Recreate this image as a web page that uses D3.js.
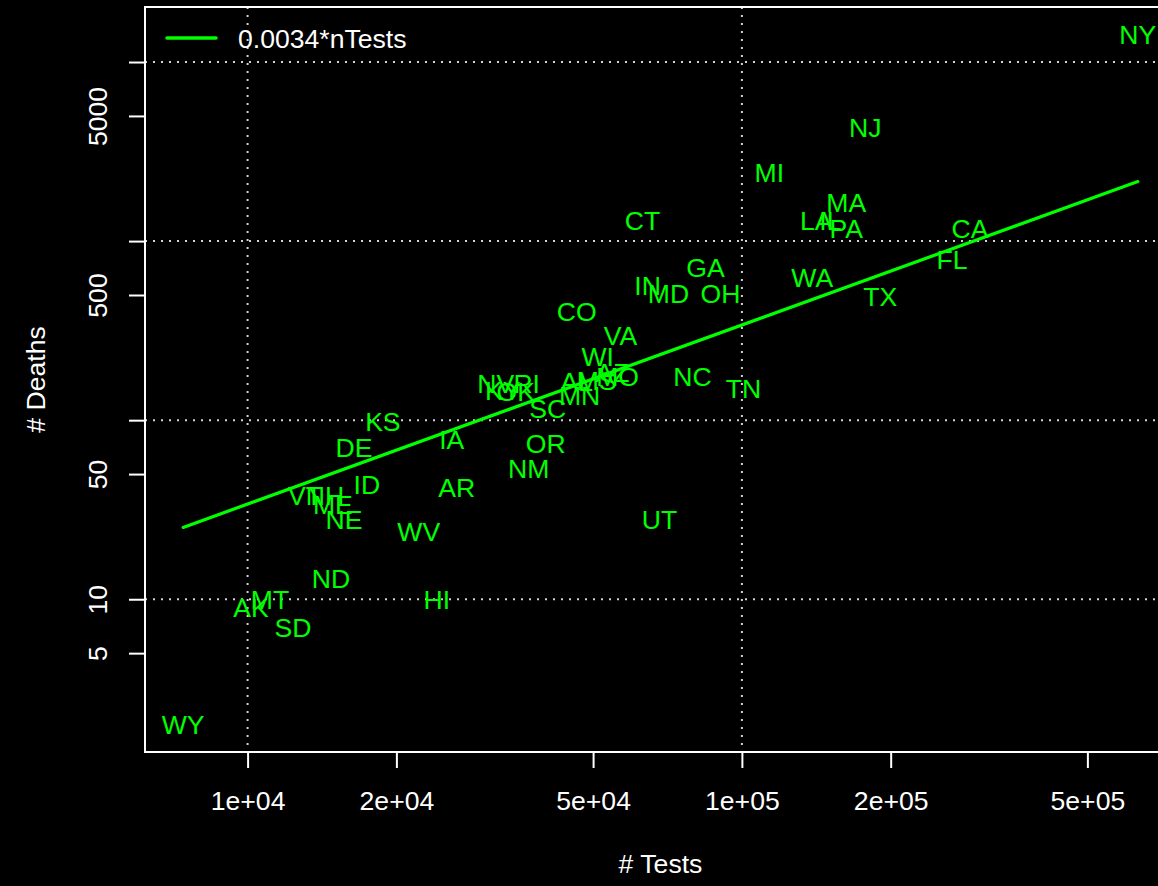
<!DOCTYPE html>
<html>
<head>
<meta charset="utf-8">
<script src="https://cdn.jsdelivr.net/npm/d3@7"></script>
<style>
  body { margin: 0; background: #000; }
  text { font-family: "Liberation Sans", Arial, sans-serif; }
</style>
</head>
<body>
<div id="chart"></div>
<script>
// data: tests and deaths per state
var states = ["NY","NJ","MI","MA","LA","IL","PA","CA","FL","TX",
              "WA","GA","IN","MD","OH","CT","CO","VA","WI","AZ",
              "MO","MS","AL","MN","SC","RI","NV","KY","OK","NC",
              "TN","KS","DE","IA","OR","NM","ID","AR","UT","WV",
              "VT","NH","ME","NE","ND","MT","AK","SD","HI","WY"];
var nTests = [632400,177600,113600,162600,141400,151000,162600,289400,266300,190500,
              138800,84400,64450,71050,90500,62950,46320,56820,51070,54750,
              56040,50830,46320,46960,40470,36700,31770,32830,34870,79430,
              100700,18780,16410,25890,40090,37040,17430,26500,68130,22200,
              13070,14340,14880,15670,14750,11100,10160,12360,24150,7408];
var nDeaths = [14230,4315,2423,1650,1309,1309,1182,1182,794,488,
               630,716,569,507,507,1309,407,296,226,184,
               175,166,164,137,117,160,160,146,144,175,
               150,99,70,78,74,54,44,42,28,24,
               38,38,34,28,13,10,9,7,10,2];
var slope = 0.0034;

// axis ticks and grid
var xTicks = [1e4, 2e4, 5e4, 1e5, 2e5, 5e5];
var yTicks = [5, 10, 50, 100, 500, 1000, 5000, 10000];
var yLabelled = [5, 10, 50, 500, 5000];
var xGrid = [1e4, 1e5];
var yGrid = [10, 100, 1000, 10000];

var width = 1158, height = 886;
var box = {left: 145, right: 1176, top: 7, bottom: 752};
var green = "#00ff00";
var fontSize = 26.6;

var svg = d3.select("#chart")
  .append("svg")
    .attr("width", width)
    .attr("height", height)
    .style("background", "#000");

// log range padded 4% on each side like R does
function padLog(vals) {
  var lo = Math.log10(d3.min(vals)), hi = Math.log10(d3.max(vals));
  var p = (hi - lo) * 0.04;
  return [Math.pow(10, lo - p), Math.pow(10, hi + p)];
}

var x = d3.scaleLog()
  .domain(padLog(nTests))
  .range([box.left, box.right]);
var y = d3.scaleLog()
  .domain(padLog(nDeaths))
  .range([box.bottom, box.top]);

function sciFormat(d) {
  var e = Math.floor(Math.log10(d) + 1e-9);
  var m = Math.round(d / Math.pow(10, e));
  return m + "e+" + (e < 10 ? "0" + e : e);
}

// dotted grid
svg.append("g")
  .selectAll("line")
  .data(yGrid)
  .enter()
  .append("line")
    .attr("x1", box.left)
    .attr("x2", box.right)
    .attr("y1", function(d) { return y(d); })
    .attr("y2", function(d) { return y(d); })
    .attr("stroke", "#d3d3d3")
    .attr("stroke-width", 2)
    .attr("stroke-dasharray", "2,6");

svg.append("g")
  .selectAll("line")
  .data(xGrid)
  .enter()
  .append("line")
    .attr("y1", box.top)
    .attr("y2", box.bottom)
    .attr("x1", function(d) { return x(d); })
    .attr("x2", function(d) { return x(d); })
    .attr("stroke", "#d3d3d3")
    .attr("stroke-width", 2)
    .attr("stroke-dasharray", "2,6");

// fitted line across the range of tests
var xr = d3.extent(nTests);
svg.append("path")
  .datum(xr)
  .attr("d", d3.line()
    .x(function(d) { return x(d); })
    .y(function(d) { return y(slope * d); })
  )
  .attr("stroke", green)
  .attr("stroke-width", 3.2)
  .attr("stroke-linecap", "round")
  .attr("fill", "none");

// state labels at each point
svg.append("g")
  .selectAll("text")
  .data(states)
  .enter()
  .append("text")
    .attr("x", function(d, i) { return x(nTests[i]); })
    .attr("y", function(d, i) { return y(nDeaths[i]); })
    .attr("dy", "0.36em")
    .attr("text-anchor", "middle")
    .attr("fill", green)
    .style("font-size", fontSize + "px")
    .text(function(d) { return d; });

// x axis
var xAxis = svg.append("g")
  .attr("transform", "translate(0," + box.bottom + ")")
  .call(d3.axisBottom(x)
    .tickValues(xTicks)
    .tickFormat(sciFormat)
    .tickSize(16)
    .tickPadding(23));
xAxis.select(".domain").remove();
xAxis.selectAll("line").attr("stroke", "#fff").attr("stroke-width", 2);
xAxis.selectAll("text")
  .attr("fill", "#fff")
  .style("font-size", fontSize + "px")
  .style("font-family", "'Liberation Sans', Arial, sans-serif");

// y axis, labels drawn parallel to the axis
var yAxis = svg.append("g")
  .attr("transform", "translate(" + box.left + ",0)")
  .call(d3.axisLeft(y)
    .tickValues(yTicks)
    .tickSize(16)
    .tickFormat(function(d) { return yLabelled.indexOf(d) >= 0 ? d : ""; }));
yAxis.select(".domain").remove();
yAxis.selectAll("line").attr("stroke", "#fff").attr("stroke-width", 2);
yAxis.selectAll("text")
  .attr("x", 0)
  .attr("dy", 0)
  .attr("transform", "translate(-38,0) rotate(-90)")
  .attr("text-anchor", "middle")
  .attr("fill", "#fff")
  .style("font-size", fontSize + "px")
  .style("font-family", "'Liberation Sans', Arial, sans-serif");

// plot frame
svg.append("rect")
  .attr("x", box.left)
  .attr("y", box.top)
  .attr("width", box.right - box.left)
  .attr("height", box.bottom - box.top)
  .attr("fill", "none")
  .attr("stroke", "#fff")
  .attr("stroke-width", 2);

// axis titles
svg.append("text")
  .attr("x", (box.left + box.right) / 2)
  .attr("y", 873)
  .attr("text-anchor", "middle")
  .attr("fill", "#fff")
  .style("font-size", fontSize + "px")
  .text("# Tests");

svg.append("text")
  .attr("transform", "translate(45," + ((box.top + box.bottom) / 2) + ") rotate(-90)")
  .attr("text-anchor", "middle")
  .attr("fill", "#fff")
  .style("font-size", fontSize + "px")
  .text("# Deaths");

// legend
svg.append("line")
  .attr("x1", box.left + 22)
  .attr("x2", box.left + 71)
  .attr("y1", box.top + 31)
  .attr("y2", box.top + 31)
  .attr("stroke", green)
  .attr("stroke-width", 3.5)
  .attr("stroke-linecap", "round");

svg.append("text")
  .attr("x", box.left + 93)
  .attr("y", box.top + 31)
  .attr("dy", "0.36em")
  .attr("fill", "#fff")
  .style("font-size", fontSize + "px")
  .text("0.0034*nTests");
</script>
</body>
</html>
